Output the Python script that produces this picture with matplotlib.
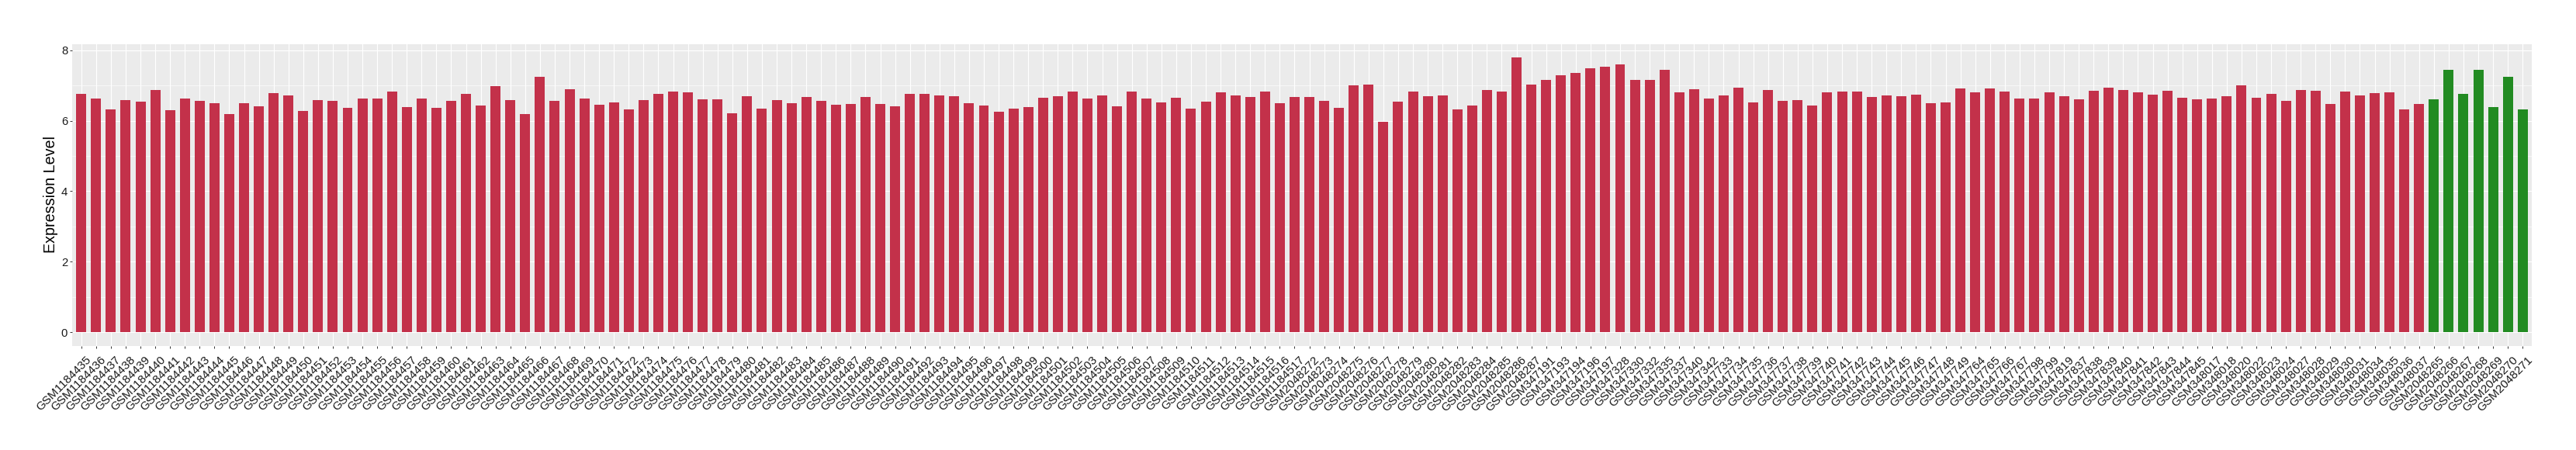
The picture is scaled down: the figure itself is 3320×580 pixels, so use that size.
import numpy as np
import matplotlib
matplotlib.use("Agg")
import matplotlib.pyplot as plt
from matplotlib.transforms import ScaledTranslation

plt.rcParams['font.family'] = ['Liberation Sans', 'DejaVu Sans']

# ---- data ----
samples = ([f"GSM{n}" for n in range(1184435, 1184518)]
           + [f"GSM{n}" for n in range(2048272, 2048288)]
           + ["GSM347191", "GSM347193", "GSM347194", "GSM347196", "GSM347197",
              "GSM347328", "GSM347330", "GSM347332", "GSM347335", "GSM347337",
              "GSM347340", "GSM347342"]
           + [f"GSM{n}" for n in range(347733, 347750)]
           + ["GSM347764", "GSM347765", "GSM347766", "GSM347767",
              "GSM347798", "GSM347799", "GSM347819"]
           + [f"GSM{n}" for n in range(347837, 347846)]
           + ["GSM348017", "GSM348018", "GSM348020", "GSM348022", "GSM348023",
              "GSM348024", "GSM348027", "GSM348028", "GSM348029", "GSM348030",
              "GSM348031", "GSM348034", "GSM348035", "GSM348036", "GSM348037"]
           + [f"GSM{n}" for n in range(2048265, 2048272)])

tumor_values = [
    6.755, 6.62, 6.315, 6.58, 6.535, 6.865, 6.29, 6.64, 6.557, 6.49,
    6.18, 6.49, 6.40, 6.78, 6.73, 6.27, 6.58, 6.557, 6.36, 6.62,
    6.64, 6.82, 6.38, 6.64, 6.36, 6.557, 6.755, 6.425, 6.975, 6.58,
    6.18, 7.24, 6.557, 6.886, 6.62, 6.447, 6.51, 6.315, 6.58, 6.755,
    6.84, 6.80, 6.60, 6.60, 6.205, 6.69, 6.337, 6.58, 6.49, 6.667,
    6.557, 6.447, 6.47, 6.667, 6.47, 6.40, 6.755, 6.755, 6.73, 6.69,
    6.49, 6.425, 6.25, 6.337, 6.38, 6.645, 6.69, 6.82, 6.62, 6.73,
    6.40, 6.82, 6.62, 6.51, 6.645, 6.337, 6.535, 6.80, 6.73, 6.667,
    6.84, 6.49, 6.667, 6.667, 6.557, 6.36, 7.00, 7.02, 5.963, 6.535,
    6.84, 6.69, 6.71, 6.315, 6.425, 6.865, 6.82, 7.79, 7.02, 7.15,
    7.30, 7.35, 7.50, 7.524, 7.59, 7.15, 7.17, 7.436, 6.80, 6.886,
    6.62, 6.71, 6.93, 6.51, 6.865, 6.557, 6.58, 6.425, 6.80, 6.84,
    6.82, 6.667, 6.73, 6.70, 6.75, 6.50, 6.52, 6.92, 6.80, 6.92,
    6.82, 6.62, 6.62, 6.80, 6.70, 6.60, 6.85, 6.95, 6.88, 6.80,
    6.75, 6.85, 6.66, 6.60, 6.62, 6.70, 7.00, 6.645, 6.76, 6.564,
    6.864, 6.848, 6.475, 6.82, 6.71, 6.78, 6.80, 6.32, 6.475,
]
normal_values = [6.60, 7.456, 6.76, 7.44, 6.385, 7.237, 6.32]

values = tumor_values + normal_values
groups = ["tumor"] * len(tumor_values) + ["normal"] * len(normal_values)
group_colors = {"tumor": "#C3314A", "normal": "#228B22"}

# ---- figure ----
W, H = 3320, 580
fig = plt.figure(figsize=(W / 100, H / 100), dpi=100)
left, right, top, bottom = 93.3, 3262.7, 56.7, 445.7
ax = fig.add_axes([left / W, 1 - bottom / H, (right - left) / W, (bottom - top) / H])
ax.set_facecolor('#EBEBEB')

n = len(values)
x = np.arange(n)
ax.bar(x, values, width=0.68, color=[group_colors[g] for g in groups], zorder=3)

vmax = max(values)
ax.set_xlim(-0.6, n - 0.4)
ax.set_ylim(-0.05 * vmax, 1.05 * vmax)

ax.set_yticks([0, 2, 4, 6, 8])
ax.set_yticks([1, 3, 5, 7], minor=True)
ax.set_xticks(x)
ax.set_xticklabels(samples, rotation=45, ha='right', va='top', rotation_mode='anchor')

ax.grid(which='major', color='white', linewidth=0.8, zorder=0)
ax.grid(which='minor', axis='y', color='white', linewidth=0.4, zorder=0)
ax.set_axisbelow(True)
for s in ax.spines.values():
    s.set_visible(False)

ax.tick_params(axis='both', which='major', length=2.4, width=0.7, color='#333333',
               labelcolor='#1A1A1A')
ax.tick_params(axis='x', labelsize=11, pad=5.5)
ax.tick_params(axis='y', labelsize=10.7, pad=2.0)
ax.tick_params(axis='y', which='minor', length=0)

offset = ScaledTranslation(5.7 / 100, 0, fig.dpi_scale_trans)
for lab in ax.get_xticklabels():
    lab.set_transform(lab.get_transform() + offset)

fig.text(65 / W, 1 - 251 / H, 'Expression Level', rotation=90, ha='center', va='center',
         fontsize=14.2, color='black')

fig.savefig('out.png', dpi=100)
